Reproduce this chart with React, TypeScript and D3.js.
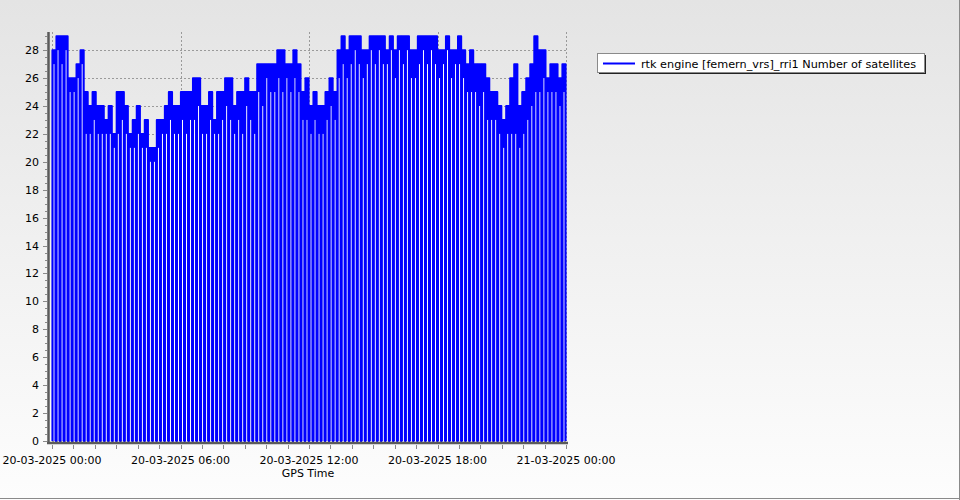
import * as d3 from "d3";
import { useMemo } from "react";

const W = 960;
const H = 500;
const LEFT = 52; // first sample
const RIGHT = 566; // last sample
const TOP = 32;
const BOTTOM = 441; // value 0
const FONT = "'DejaVu Sans', Verdana, sans-serif";
const BLUE = "#0000ff";

const START = new Date(2025, 2, 20, 0, 0);
const END = new Date(2025, 2, 21, 0, 0);

// Number of satellites, one value per logging block (block top)
const SATS_HIGH = [
  28, 29, 29, 29, 26, 26, 27, 28, 25, 24,
  25, 24, 24, 23, 24, 22, 25, 25, 24, 22,
  23, 24, 22, 23, 21, 21, 23, 23, 24, 25,
  24, 24, 25, 25, 25, 26, 26, 24, 24, 25,
  23, 25, 25, 26, 26, 24, 25, 25, 26, 25,
  25, 27, 27, 27, 27, 27, 28, 28, 27, 27,
  28, 27, 25, 26, 24, 25, 24, 24, 25, 26,
  25, 28, 29, 28, 29, 29, 29, 28, 28, 29,
  29, 29, 29, 28, 29, 28, 29, 29, 29, 28,
  28, 29, 29, 29, 29, 29, 28, 28, 29, 28,
  28, 29, 28, 27, 28, 27, 27, 27, 26, 25,
  25, 24, 23, 24, 26, 27, 24, 25, 26, 27,
  29, 28, 28, 26, 27, 27, 26, 27,
];

// lowest count inside the same block
const SATS_LOW = [
  27, 28, 27, 28, 25, 25, 26, 27, 22, 22,
  23, 22, 22, 22, 22, 21, 22, 23, 22, 21,
  21, 22, 21, 21, 20, 20, 21, 22, 22, 23,
  22, 22, 23, 22, 23, 23, 24, 22, 22, 23,
  22, 22, 23, 24, 23, 22, 23, 22, 24, 23,
  22, 25, 24, 26, 25, 25, 26, 25, 26, 25,
  26, 25, 23, 23, 22, 23, 22, 22, 23, 24,
  23, 26, 27, 26, 27, 28, 27, 26, 27, 28,
  27, 28, 27, 27, 28, 26, 28, 27, 28, 26,
  26, 27, 28, 27, 28, 27, 26, 27, 28, 26,
  27, 27, 26, 25, 25, 25, 24, 25, 23, 23,
  23, 22, 21, 22, 22, 22, 21, 22, 23, 24,
  25, 25, 26, 25, 25, 25, 24, 25,
];

const Y_TICKS = d3.range(0, 29, 2);
const Y_MINOR = d3.range(0, 29.01, 0.5);
const LEGEND_LABEL = "rtk engine [femern_vrs]_rri1 Number of satellites";
const X_TITLE = "GPS Time";

const fmt = d3.timeFormat("%d-%m-%Y %H:%M");

export default function App() {
  const x = useMemo(
    () => d3.scaleTime().domain([START, END]).range([LEFT, RIGHT]),
    [],
  );
  const y = useMemo(
    () => d3.scaleLinear().domain([0, 29.3]).range([BOTTOM, TOP]),
    [],
  );

  const step = (+END - +START) / SATS_HIGH.length;
  const dip = step * 0.08;

  // each block: rises from the 0 drop-out, holds, and drops back to 0
  const points = useMemo(() => {
    const pts: [Date, number][] = [];
    SATS_HIGH.forEach((v, i) => {
      const t0 = +START + i * step;
      const t1 = t0 + step;
      pts.push([new Date(t0 + dip), 0]);
      pts.push([new Date(t0 + dip), v]);
      pts.push([new Date(t1 - dip), v]);
      pts.push([new Date(t1 - dip), 0]);
    });
    return pts;
  }, []);

  const line = d3
    .line<[Date, number]>()
    .x((d) => x(d[0]))
    .y((d) => y(d[1]));
  const area = d3
    .area<[Date, number]>()
    .x((d) => x(d[0]))
    .y0(y(0))
    .y1((d) => y(d[1]));

  const xTicks = d3.timeMinute.every(90)!.range(START, new Date(+END + 1));
  const xLabels = d3.timeHour.every(6)!.range(START, new Date(+END + 1));

  return (
    <svg
      width={W}
      height={H}
      style={{ position: "absolute", left: 0, top: 0 }}
      fontFamily={FONT}
    >
      <defs>
        <linearGradient id="bg" x1="0" y1="0" x2="0" y2="1">
          <stop offset="0" stopColor="#e4e4e4" />
          <stop offset="1" stopColor="#fdfdfd" />
        </linearGradient>
      </defs>
      <rect width={W} height={H} fill="url(#bg)" />
      <line x1={W - 0.5} x2={W - 0.5} y1={0} y2={H} stroke="#8a8a8a" />
      <line x1={0} x2={W} y1={H - 1.5} y2={H - 1.5} stroke="#8a8a8a" />

      {/* grid */}
      {Y_TICKS.map((t) => (
        <line
          key={t}
          x1={LEFT}
          x2={RIGHT}
          y1={Math.round(y(t)) + 0.5}
          y2={Math.round(y(t)) + 0.5}
          stroke="#9a9a9a"
          strokeDasharray="2,2"
        />
      ))}
      {xLabels.map((t) => (
        <line
          key={+t}
          x1={Math.round(x(t)) + 0.5}
          x2={Math.round(x(t)) + 0.5}
          y1={TOP}
          y2={BOTTOM}
          stroke="#9a9a9a"
          strokeDasharray="2,2"
        />
      ))}

      {/* series */}
      <path d={area(points) ?? ""} fill={BLUE} />
      {SATS_LOW.map((v, i) => {
        const t0 = +START + i * step;
        const xa = x(new Date(t0 + step * 0.37));
        const xb = x(new Date(t0 + step * 0.63));
        return (
          <rect
            key={i}
            x={xa}
            y={y(v)}
            width={xb - xa}
            height={y(0) - y(v)}
            fill="#ffffff"
          />
        );
      })}
      <path
        d={line(points) ?? ""}
        fill="none"
        stroke={BLUE}
        strokeWidth={1.8}
        strokeLinejoin="round"
      />

      {/* y axis */}
      <line x1={48.5} x2={48.5} y1={TOP} y2={444} stroke="#5a5a5a" strokeWidth={2.5} />
      {Y_MINOR.map((t) => {
        const major = t % 2 === 0;
        const yy = Math.round(y(t)) + 0.5;
        return (
          <line
            key={t}
            x1={major ? 43 : 45}
            x2={47}
            y1={yy}
            y2={yy}
            stroke="#8a8a8a"
          />
        );
      })}
      {Y_TICKS.map((t) => (
        <text
          key={t}
          x={39}
          y={y(t) + 4}
          textAnchor="end"
          fontSize={11}
          fill="#000"
        >
          {t}
        </text>
      ))}

      {/* x axis */}
      <line x1={47} x2={568} y1={443} y2={443} stroke="#5a5a5a" strokeWidth={2.5} />
      {xTicks.map((t) => (
        <line
          key={+t}
          x1={Math.round(x(t)) + 0.5}
          x2={Math.round(x(t)) + 0.5}
          y1={445}
          y2={449}
          stroke="#8a8a8a"
        />
      ))}
      {xLabels.map((t) => (
        <text
          key={+t}
          x={x(t)}
          y={464}
          textAnchor="middle"
          fontSize={11}
          fill="#000"
        >
          {fmt(t)}
        </text>
      ))}
      <text x={308} y={477} textAnchor="middle" fontSize={11} fill="#000">
        {X_TITLE}
      </text>

      {/* legend */}
      <rect x={599} y={55} width={327} height={19} fill="#222" />
      <rect x={597.5} y={53.5} width={327} height={19} fill="#fff" stroke="#8a8a8a" />
      <line x1={603} x2={635} y1={63.5} y2={63.5} stroke={BLUE} strokeWidth={2} />
      <text
        x={641}
        y={67.5}
        fontSize={11}
        fill="#000"
        textLength={275}
        lengthAdjust="spacingAndGlyphs"
      >
        {LEGEND_LABEL}
      </text>
    </svg>
  );
}
